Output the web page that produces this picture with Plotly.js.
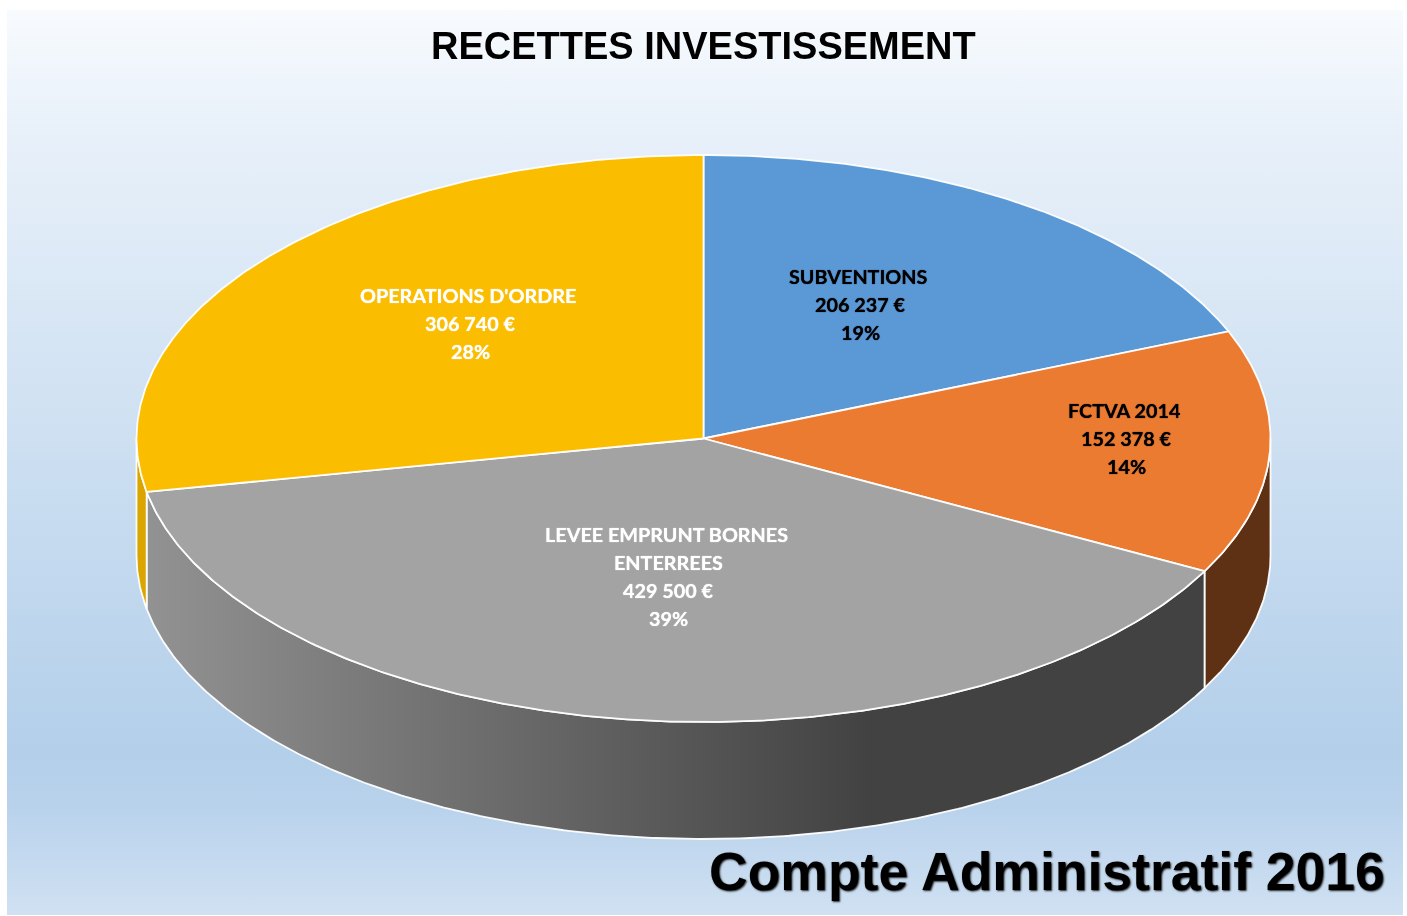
<!DOCTYPE html>
<html>
<head>
<meta charset="utf-8">
<script src="https://cdn.plot.ly/plotly-3.0.1.min.js"></script>
<style>
html,body{margin:0;padding:0;background:#fff;width:1407px;height:916px;overflow:hidden}
#bg{position:absolute;left:7px;top:10px;width:1396px;height:905px;
background:linear-gradient(180deg,#f8fbfe 0%,#e9f1fa 12%,#d3e3f3 40%,#b3cfea 82%,#b9d2ec 88%,#d0e1f2 100%)}
#chart{position:absolute;left:0;top:0;width:1407px;height:916px;filter:blur(0.45px)}
</style>
</head>
<body>
<div id="bg"></div>
<div id="chart"></div>
<script>
// Data
var categories = ["SUBVENTIONS", "FCTVA 2014", "LEVEE EMPRUNT BORNES<br>ENTERREES", "OPERATIONS D'ORDRE"];
var values = [206237, 152378, 429500, 306740];
var topColors = ["#5b99d6", "#eb7b31", "#a3a3a3", "#fbbd00"];
var labelColors = ["#000000", "#000000", "#ffffff", "#ffffff"];
var titleText = "RECETTES INVESTISSEMENT";
var footerText = "Compte Administratif 2016";

// Geometry of the tilted disc (pixels on full-page axes)
var CX = 703.5, CY = 438.5, RX = 567, RY = 283.5, DEPTH = 117;
var labelAnchors = [[860, 276], [1126, 410], [668, 534], [470, 295]];
var LINE_STEP = 28;
var wallFills = {
  0: null, 1: {solid: "#5e3114"},
  2: {from: 147, to: 870, c0: "#929292", c1: "#424242"},
  3: {solid: "#dba500"}
};

var total = values.reduce(function (a, b) { return a + b; }, 0);
function px(deg) { return CX + RX * Math.sin(deg * Math.PI / 180); }
function py(deg) { return CY - RY * Math.cos(deg * Math.PI / 180); }
function arc(a0, a1) {
  var n = Math.max(2, Math.ceil(Math.abs(a1 - a0) * 2)), xs = [], ys = [];
  for (var i = 0; i <= n; i++) {
    var a = a0 + (a1 - a0) * i / n;
    xs.push(px(a)); ys.push(py(a));
  }
  return {x: xs, y: ys};
}

var traces = [], annotations = [], start = 0, slices = [];
values.forEach(function (v, i) {
  var end = start + v / total * 360;
  slices.push([start, end]);
  start = end;
});

var LINE = {color: "rgba(255,255,255,0.95)", width: 1.8, shape: "linear"};

// Side wall: the part of each slice that faces the viewer (90deg to 270deg)
slices.forEach(function (s, i) {
  var a0 = Math.max(s[0], 90), a1 = Math.min(s[1], 270);
  if (a1 <= a0) return;
  var t = arc(a0, a1);
  var xs = t.x.concat(t.x.slice().reverse(), [t.x[0]]);
  var ys = t.y.concat(t.y.slice().reverse().map(function (y) { return y + DEPTH; }), [t.y[0]]);
  var w = wallFills[i];
  var tr = {type: "scatter", mode: "lines", x: xs, y: ys, fill: "toself", line: LINE, hoverinfo: "skip", showlegend: false};
  if (w.solid) {
    tr.fillcolor = w.solid;
  } else {
    tr.fillgradient = {type: "horizontal", start: w.from, stop: w.to, colorscale: [[0, w.c0], [1, w.c1]]};
  }
  traces.push(tr);
});

// Top face
slices.forEach(function (s, i) {
  var t = arc(s[0], s[1]);
  traces.push({
    type: "scatter", mode: "lines",
    x: [CX].concat(t.x, [CX]), y: [CY].concat(t.y, [CY]),
    fill: "toself", fillcolor: topColors[i], line: LINE, hoverinfo: "skip", showlegend: false
  });
});

// Labels
function money(v) { return String(v).replace(/\B(?=(\d{3})+$)/g, "\u00a0") + "\u00a0€"; }
values.forEach(function (v, i) {
  var lines = categories[i].split("<br>").concat([money(v), Math.round(v / total * 100) + "%"]);
  lines.forEach(function (txt, k) {
    annotations.push({
      xref: "x", yref: "y", x: labelAnchors[i][0] - (k === 0 ? 2 : 0), y: labelAnchors[i][1] + k * LINE_STEP,
      text: txt, showarrow: false, xanchor: "center", yanchor: "middle",
      font: {family: "Lato, 'Noto Sans', sans-serif", size: 19.8, weight: 700, color: labelColors[i], shadow: "0 0 1px " + labelColors[i]}
    });
  });
});

annotations.push({
  xref: "x", yref: "y", x: 703.5, y: 46, text: titleText, showarrow: false, xanchor: "center", yanchor: "middle",
  font: {family: "'Liberation Sans', Arial, sans-serif", size: 38, weight: 700, color: "#000"}
});
annotations.push({
  xref: "x", yref: "y", x: 1047, y: 871, text: footerText, showarrow: false, xanchor: "center", yanchor: "middle",
  font: {family: "'Liberation Sans', Arial, sans-serif", size: 53.5, weight: 700, color: "#000", shadow: "1px 1px 2px #222"}
});

Plotly.newPlot("chart", traces, {
  width: 1407, height: 916,
  margin: {l: 0, r: 0, t: 0, b: 0, pad: 0},
  paper_bgcolor: "rgba(0,0,0,0)", plot_bgcolor: "rgba(0,0,0,0)",
  showlegend: false,
  xaxis: {range: [0, 1407], visible: false, fixedrange: true},
  yaxis: {range: [916, 0], visible: false, fixedrange: true},
  annotations: annotations
}, {displayModeBar: false, staticPlot: true});
</script>
</body>
</html>
